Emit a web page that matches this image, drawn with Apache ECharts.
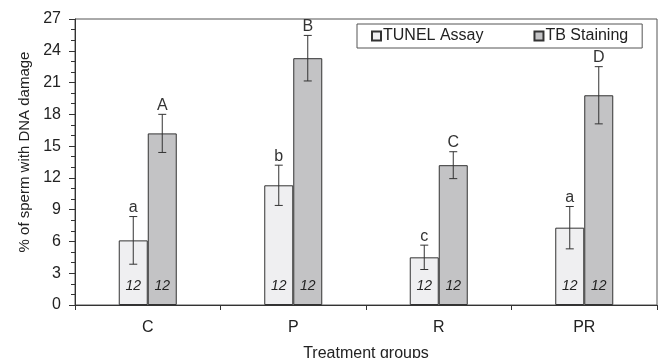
<!DOCTYPE html>
<html>
<head>
<meta charset="utf-8">
<script src="https://cdn.jsdelivr.net/npm/echarts@6/dist/echarts.min.js"></script>
<style>
  html, body { margin: 0; padding: 0; background: #fff; }
  #chart { width: 660px; height: 358px; }
</style>
</head>
<body>
<div id="chart"></div>
<script>
// data
const categories = ["C", "P", "R", "PR"];
const tunel = [6.1, 11.3, 4.5, 7.3];
const tunelErr = [2.25, 1.9, 1.15, 2.0];
const tunelLetters = ["a", "b", "c", "a"];
const tb = [16.2, 23.3, 13.2, 19.8];
const tbErr = [1.8, 2.15, 1.27, 2.7];
const tbLetters = ["A", "B", "C", "D"];
const nLabel = "12";
const yTicks = [0, 3, 6, 9, 12, 15, 18, 21, 24, 27];

const font = "Liberation Sans, Arial, sans-serif";
const ink = "#333";
const barW = 29;

// error bar + letter drawn through the axes, side = -1 (TUNEL) or 1 (TB)
function errRender(vals, errs, letters, side) {
  return function (params, api) {
    const i = api.value(0);
    const top = api.coord([i, vals[i] + errs[i]]);
    const bot = api.coord([i, vals[i] - errs[i]]);
    const x = top[0] + side * barW / 2;
    const cap = 4;
    const st = { stroke: ink, lineWidth: 1 };
    return {
      type: "group",
      children: [
        { type: "line", shape: { x1: x, y1: top[1], x2: x, y2: bot[1] }, style: st },
        { type: "line", shape: { x1: x - cap, y1: top[1], x2: x + cap, y2: top[1] }, style: st },
        { type: "line", shape: { x1: x - cap, y1: bot[1], x2: x + cap, y2: bot[1] }, style: st },
        {
          type: "text",
          style: {
            x: x, y: top[1] - 1, text: letters[i],
            align: "center", verticalAlign: "bottom",
            font: "16px " + font, fill: ink
          }
        }
      ]
    };
  };
}

const chart = echarts.init(document.getElementById("chart"));
chart.setOption({
  animation: false,
  backgroundColor: "#fff",
  textStyle: { fontFamily: font },
  grid: {
    left: 75, right: 3, top: 19, bottom: 53,
    outerBoundsMode: "none",
    containLabel: false,
    show: true, borderColor: "#555", borderWidth: 1
  },
  legend: {
    left: 357, top: 24,
    padding: [4, 14, 4, 14],
    borderColor: "#555", borderWidth: 1,
    itemWidth: 9, itemHeight: 9, itemGap: 50,
    icon: "rect",
    textStyle: { fontSize: 16, color: "#222", fontFamily: font, padding: [0, 0, 0, -3] },
    data: ["TUNEL Assay", "TB Staining"]
  },
  xAxis: {
    type: "category",
    data: categories,
    name: "Treatment groups",
    nameLocation: "middle",
    nameGap: 41,
    nameTextStyle: { fontSize: 16, color: "#222", fontFamily: font },
    axisLine: { lineStyle: { color: ink, width: 1 } },
    axisTick: { show: true, length: 5, lineStyle: { color: ink } },
    axisLabel: { fontSize: 16, color: "#222", margin: 15, fontFamily: font }
  },
  yAxis: {
    type: "value",
    min: yTicks[0],
    max: yTicks[yTicks.length - 1],
    interval: 3,
    name: "% of sperm with DNA damage",
    nameLocation: "middle",
    nameGap: 32,
    nameTextStyle: { fontSize: 15, color: "#222", fontFamily: font, padding: [0, 0, 0, 20] },
    axisLine: { show: true, lineStyle: { color: ink, width: 1 } },
    axisTick: { show: true, length: 6, lineStyle: { color: ink } },
    minorTick: { show: true, splitNumber: 3, length: 4, lineStyle: { color: ink } },
    splitLine: { show: false },
    axisLabel: { fontSize: 16, color: "#222", margin: 14, fontFamily: font }
  },
  series: [
    {
      name: "TUNEL Assay",
      type: "bar",
      data: tunel,
      barWidth: barW,
      barGap: "0%",
      itemStyle: { color: "#efeff1", borderColor: ink, borderWidth: 1 },
      label: {
        show: true, position: "insideBottom", distance: 12,
        formatter: nLabel, fontStyle: "italic", fontSize: 14, color: "#222", fontFamily: font
      }
    },
    {
      name: "TB Staining",
      type: "bar",
      data: tb,
      barWidth: barW,
      barGap: "0%",
      itemStyle: { color: "#c3c3c5", borderColor: ink, borderWidth: 1 },
      label: {
        show: true, position: "insideBottom", distance: 12,
        formatter: nLabel, fontStyle: "italic", fontSize: 14, color: "#222", fontFamily: font
      }
    },
    {
      type: "custom",
      renderItem: errRender(tunel, tunelErr, tunelLetters, -1),
      data: categories.map((c, i) => [i]),
      z: 5
    },
    {
      type: "custom",
      renderItem: errRender(tb, tbErr, tbLetters, 1),
      data: categories.map((c, i) => [i]),
      z: 5
    }
  ]
});
</script>
</body>
</html>
